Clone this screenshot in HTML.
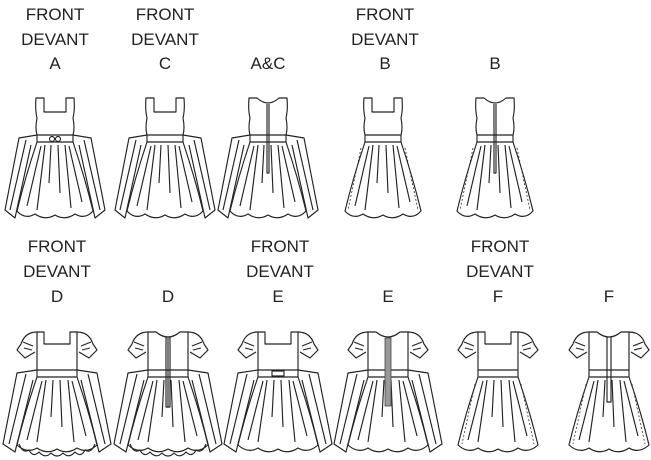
<!DOCTYPE html>
<html><head><style>
body{margin:0;background:#fff}
svg{display:block}
text{font-family:"Liberation Sans",sans-serif;font-size:17px;fill:#222;text-anchor:middle}
.l{fill:none;stroke:#222;stroke-width:1.15;stroke-linejoin:round}
.d{fill:none;stroke:#333;stroke-width:0.8;stroke-dasharray:2 2}
</style></head><body>
<svg width="651" height="460" viewBox="0 0 651 460" xmlns="http://www.w3.org/2000/svg">
<defs>
<g id="sash">
<path class="l" d="M-18,37 L-36,40 L-50,112 L-40,120 L-24,47 M18,37 L36,40 L50,112 L40,120 L24,47"/>
<path class="l" d="M-29,42 L-45,112 M29,42 L45,112"/>
</g>
<g id="skirt">
<path class="l" d="M-18,44 Q-30,80 -38,113 Q-30,122 -20,116 Q-10,123 0,117 Q10,123 20,116 Q30,122 38,113 Q30,80 18,44"/>
<path class="l" d="M-10,47 L-18,112 M-4,47 L-6,85 M3,47 L5,95 M10,47 L16,110 M-14,48 L-28,108 M14,48 L27,104"/>
</g>
<g id="topfront">
<path class="l" d="M-19,0 L-11,0 L-11,14 L11,14 L11,0 L19,0 Q20,12 18,20 Q20,30 18,37 L-18,37 Q-20,30 -18,20 Q-20,12 -19,0 Z"/>
<path class="l" d="M-18,37 L-18,44 L18,44 L18,37"/>
</g>
<g id="topback">
<path class="l" d="M-19,0 L-11,0 Q0,10 11,0 L19,0 Q20,12 18,20 Q20,30 18,37 L-18,37 Q-20,30 -18,20 Q-20,12 -19,0 Z"/>
<path class="l" d="M-18,37 L-18,44 L18,44 L18,37 M-1,6 L-1,75 L1,75 L1,6"/>
</g>
<g id="slv">
<path class="l" d="M-20,0 Q-32,0 -36,12 L-40,18 L-32,26 L-22,20 M20,0 Q32,0 36,12 L40,18 L32,26 L22,20 M-34,10 L-24,14 M-33,16 L-25,18 M34,10 L24,14 M33,16 L25,18"/>
</g>
<g id="botfront">
<use href="#slv"/>
<path class="l" d="M-20,0 L-13,0 L-13,12 L13,12 L13,0 L20,0 L20,38 L-20,38 Z M-20,38 L-20,45 L20,45 L20,38"/>
</g>
<g id="botback">
<use href="#slv"/>
<path class="l" d="M-20,0 L-12,0 Q0,10 12,0 L20,0 L20,38 L-20,38 Z M-20,38 L-20,45 L20,45 L20,38"/>
</g>
<g id="bsk">
<path class="l" d="M-20,45 Q-32,80 -40,113 Q-30,122 -20,116 Q-10,123 0,117 Q10,123 20,116 Q30,122 40,113 Q32,80 20,45"/>
<path class="l" d="M-11,48 L-20,110 M-4,48 L-6,85 M3,48 L5,95 M11,48 L17,110 M-15,49 L-30,108 M15,49 L29,104"/>
</g>
<g id="bsash">
<path class="l" d="M-20,38 L-40,41 L-54,112 L-42,120 L-24,48 M20,38 L40,41 L54,112 L42,120 L24,48 M-31,42 L-48,112 M31,42 L48,112"/>
</g>
</defs>

<text x="55" y="20">FRONT</text><text x="55" y="45">DEVANT</text><text x="55" y="69">A</text>
<text x="165" y="20">FRONT</text><text x="165" y="45">DEVANT</text><text x="165" y="69">C</text>
<text x="268" y="69">A&amp;C</text>
<text x="385" y="20">FRONT</text><text x="385" y="45">DEVANT</text><text x="385" y="69">B</text>
<text x="495" y="69">B</text>
<text x="57" y="252">FRONT</text><text x="57" y="277">DEVANT</text><text x="57" y="302">D</text>
<text x="168" y="302">D</text>
<text x="280" y="252">FRONT</text><text x="280" y="277">DEVANT</text><text x="278" y="302">E</text>
<text x="388" y="302">E</text>
<text x="500" y="252">FRONT</text><text x="500" y="277">DEVANT</text><text x="498" y="302">F</text>
<text x="609" y="302">F</text>

<g transform="translate(55,98)"><use href="#sash"/><use href="#skirt"/><use href="#topfront"/><circle class="l" cx="-3" cy="41" r="2.5"/><circle class="l" cx="3" cy="41" r="2.5"/></g>
<g transform="translate(165,98)"><use href="#sash"/><use href="#skirt"/><use href="#topfront"/></g>
<g transform="translate(268,98)"><use href="#sash"/><use href="#skirt"/><use href="#topback"/></g>
<g transform="translate(383,98)"><use href="#skirt"/><use href="#topfront"/><path class="d" d="M-22,50 L-35,112 M22,50 L35,112"/></g>
<g transform="translate(495,98)"><use href="#skirt"/><use href="#topback"/><path class="d" d="M-22,50 L-35,112 M22,50 L35,112"/></g>

<g transform="translate(57,332)"><use href="#bsash"/><use href="#bsk"/><use href="#botfront"/><path class="l" d="M-38,112 Q-34,122 -28,118 Q-24,126 -18,120 Q-12,127 -6,121 Q0,127 6,121 Q12,127 18,120 Q24,126 28,118 Q34,122 38,112"/></g>
<g transform="translate(168,332)"><use href="#bsash"/><use href="#bsk"/><use href="#botback"/><path class="l" d="M-2,5 L-2,75 L2,75 L2,5 M0,5 L0,75 M-38,112 Q-34,122 -28,118 Q-24,126 -18,120 Q-12,127 -6,121 Q0,127 6,121 Q12,127 18,120 Q24,126 28,118 Q34,122 38,112"/></g>
<g transform="translate(278,332)"><use href="#bsash"/><use href="#bsk"/><use href="#botfront"/><rect class="l" x="-6" y="39" width="12" height="5"/></g>
<g transform="translate(388,332)"><use href="#bsash"/><use href="#bsk"/><use href="#botback"/><rect x="-3" y="6" width="6" height="68" fill="#999" stroke="#444" stroke-width="0.8"/></g>
<g transform="translate(498,332)"><use href="#bsk"/><use href="#botfront"/><path class="d" d="M-23,52 L-36,112 M23,52 L36,112"/></g>
<g transform="translate(609,332)"><use href="#bsk"/><use href="#botback"/><path class="l" d="M-2,5 L-2,70 L2,70 L2,5"/><path class="d" d="M-23,52 L-36,112 M23,52 L36,112"/></g>
</svg>
</body></html>
